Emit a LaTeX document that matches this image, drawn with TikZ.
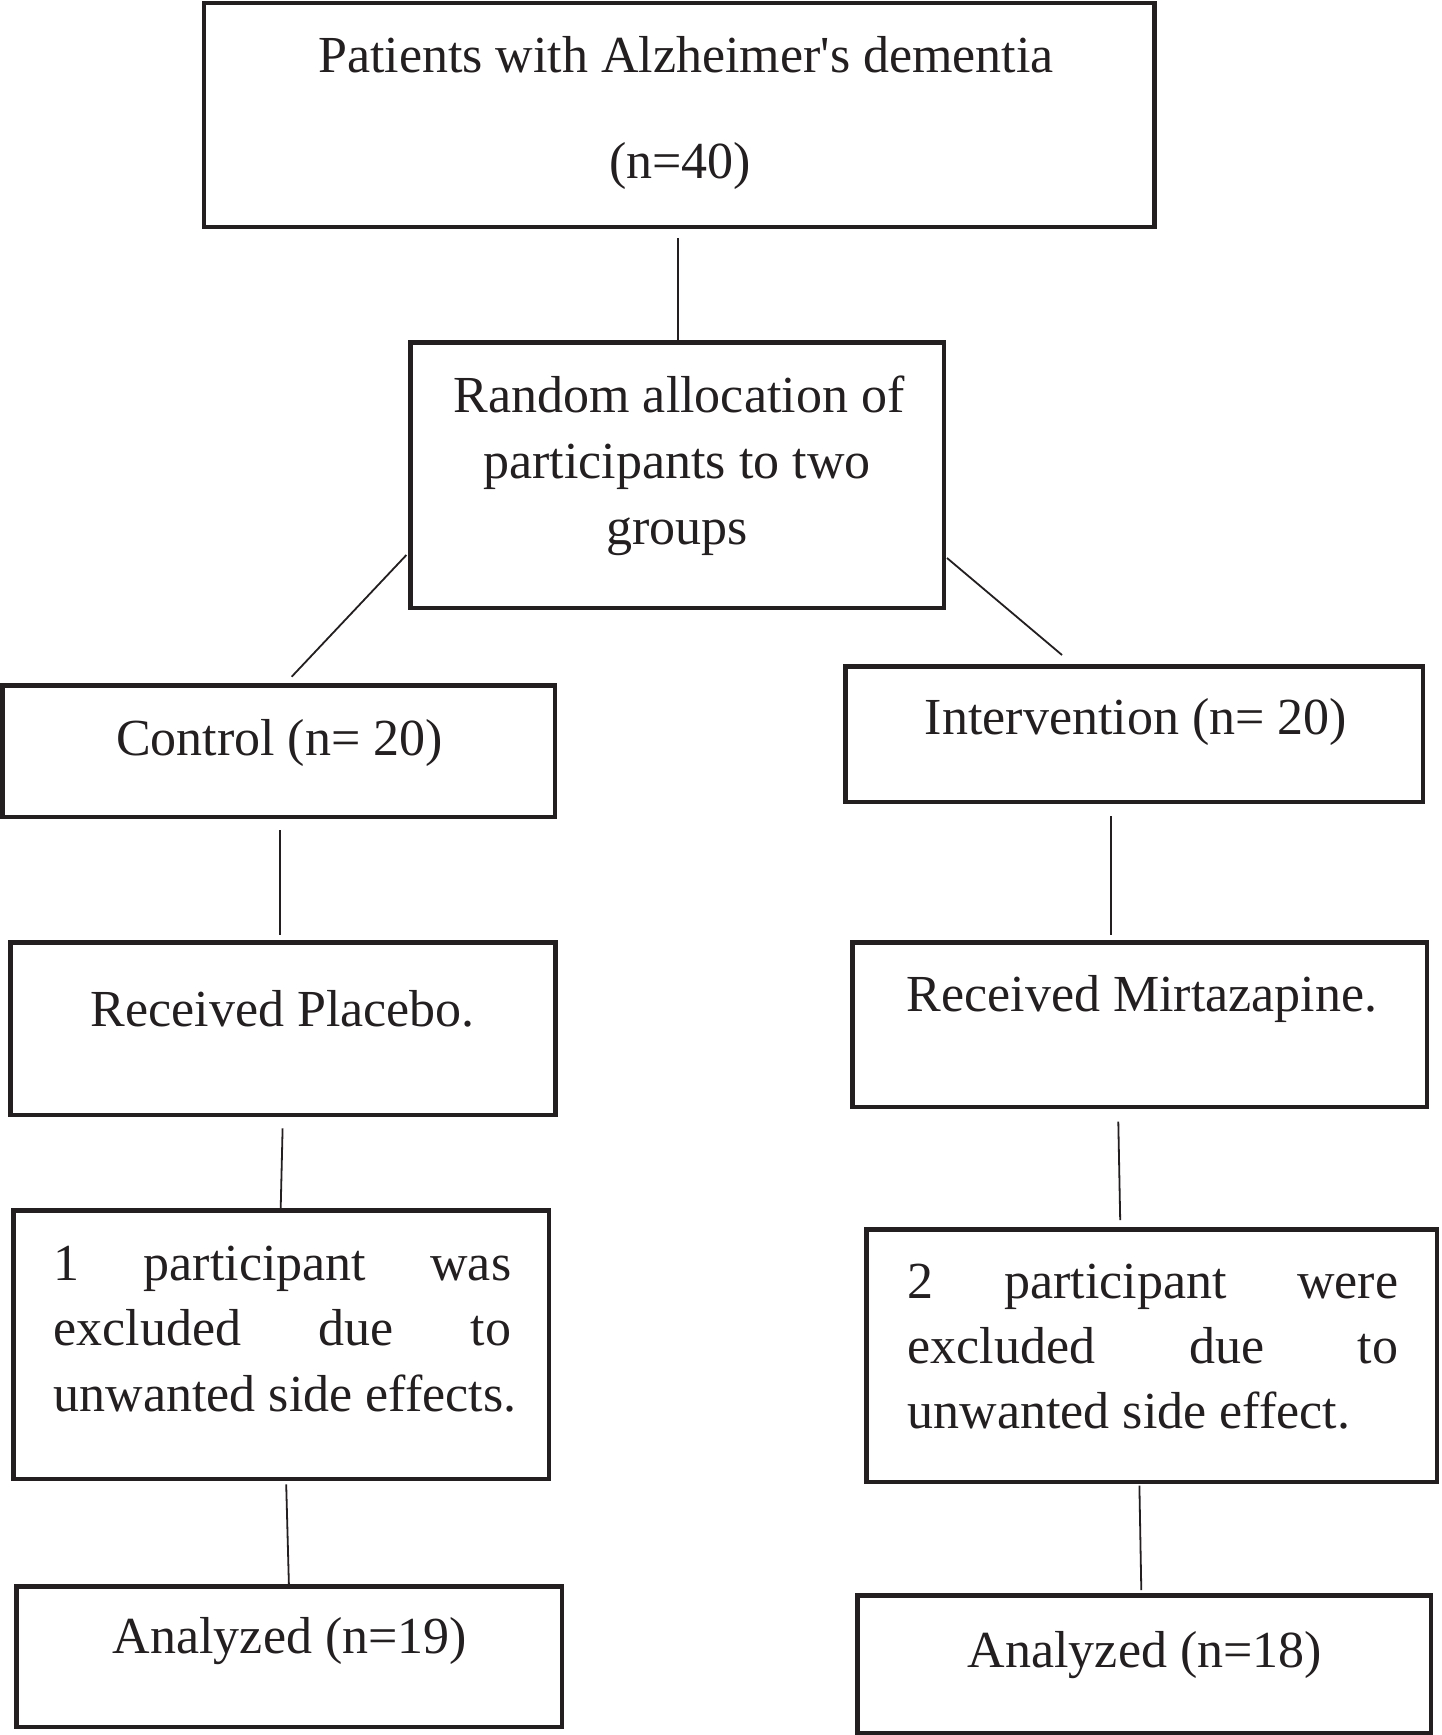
\documentclass[tikz,border=0pt]{standalone}
\usepackage{fontspec}
\setmainfont{Liberation Serif}
\definecolor{ink}{HTML}{231F20}
\newcommand{\sq}{{\XeTeXglyph\XeTeXglyphindex"quotesingle"\relax}}
\begin{document}
\begin{tikzpicture}[x=1pt,y=-1pt,
  box/.style={draw=ink, line width=4.5pt, inner sep=0pt, rectangle},
  txt/.style={anchor=base, inner sep=0pt, text=ink, font=\fontsize{52}{66}\selectfont},
  jtxt/.style={anchor=base west, inner sep=0pt, text=ink, font=\fontsize{52}{66}\selectfont},
  link/.style={draw=ink, line width=1.8pt}]
\useasboundingbox (0,0) rectangle (1442,1735);
\fill[white] (0,0) rectangle (1442,1735);

% boxes
\node[box, minimum width=950.3pt, minimum height=224pt] (top) at (679.1,114.75) {};
\node[box, minimum width=533.5pt, minimum height=265.5pt] (rand) at (677,475) {};
\node[box, minimum width=552.5pt, minimum height=131.5pt] (ctrl) at (278.5,751) {};
\node[box, minimum width=577.5pt, minimum height=135.5pt] (intv) at (1134,734) {};
\node[box, minimum width=545pt, minimum height=172.5pt] (plac) at (282.75,1028.5) {};
\node[box, minimum width=574.5pt, minimum height=164.5pt] (mirt) at (1139.5,1024.5) {};
\node[box, minimum width=535.5pt, minimum height=268.5pt] (exa) at (281,1344.5) {};
\node[box, minimum width=570.5pt, minimum height=252.5pt] (exb) at (1151.5,1355.5) {};
\node[box, minimum width=545.5pt, minimum height=140.5pt] (ana) at (289,1656.5) {};
\node[box, minimum width=573.5pt, minimum height=137.5pt] (anb) at (1144,1664) {};

% texts
\node[txt] (t1) at (686,72) {Patients with Alzheimer\sq s dementia};
\node[txt] (t2) at (680,178) {(n=40)};
\node[txt] (r1) at (679,412) {Random allocation of};
\node[txt] (r2) at (677,478) {participants to two};
\node[txt] (r3) at (677,544) {groups};
\node[txt] (c1) at (279.5,755) {Control (n= 20)};
\node[txt] (i1) at (1136,734) {Intervention (n= 20)};
\node[txt] (p1) at (282.8,1026) {Received Placebo.};
\node[txt] (m1) at (1142,1011) {Received Mirtazapine.};
\node[jtxt] (ea1) at (53.5,1280) {\makebox[457.5pt]{1\hfill participant\hfill was}};
\node[jtxt] (ea2) at (53.5,1345) {\makebox[457.5pt]{excluded\hfill due\hfill to}};
\node[jtxt] (ea3) at (53.5,1411.5) {unwanted side effects.};
\node[jtxt] (eb1) at (907.5,1298) {\makebox[490.5pt]{2\hfill participant\hfill were}};
\node[jtxt] (eb2) at (907.5,1363) {\makebox[490.5pt]{excluded\hfill due\hfill to}};
\node[jtxt] (eb3) at (907.5,1428.5) {unwanted side effect.};
\node[txt] (a1) at (290,1653) {Analyzed (n=19)};
\node[txt] (a2) at (1145,1667) {Analyzed (n=18)};

% connector ends
\coordinate (k1a) at (678,238);    \coordinate (k1b) at (678,342);
\coordinate (k2a) at (406.4,555);  \coordinate (k2b) at (291.7,676.7);
\coordinate (k3a) at (947,558);    \coordinate (k3b) at (1062,655);
\coordinate (k4a) at (279.8,830);  \coordinate (k4b) at (279.8,935);
\coordinate (k5a) at (1111,816);   \coordinate (k5b) at (1111,935);
\coordinate (k6a) at (282.6,1128.3); \coordinate (k6b) at (280.7,1208.3);
\coordinate (k7a) at (1118.3,1121.7); \coordinate (k7b) at (1120.2,1220);
\coordinate (k8a) at (286.2,1484.3); \coordinate (k8b) at (289,1588.3);
\coordinate (k9a) at (1139.4,1485.7); \coordinate (k9b) at (1141.3,1590);

\draw[link] (k1a) -- (k1b);
\draw[link] (k2a) -- (k2b);
\draw[link] (k3a) -- (k3b);
\draw[link] (k4a) -- (k4b);
\draw[link] (k5a) -- (k5b);
\draw[link] (k6a) -- (k6b);
\draw[link] (k7a) -- (k7b);
\draw[link] (k8a) -- (k8b);
\draw[link] (k9a) -- (k9b);
\end{tikzpicture}
\end{document}
